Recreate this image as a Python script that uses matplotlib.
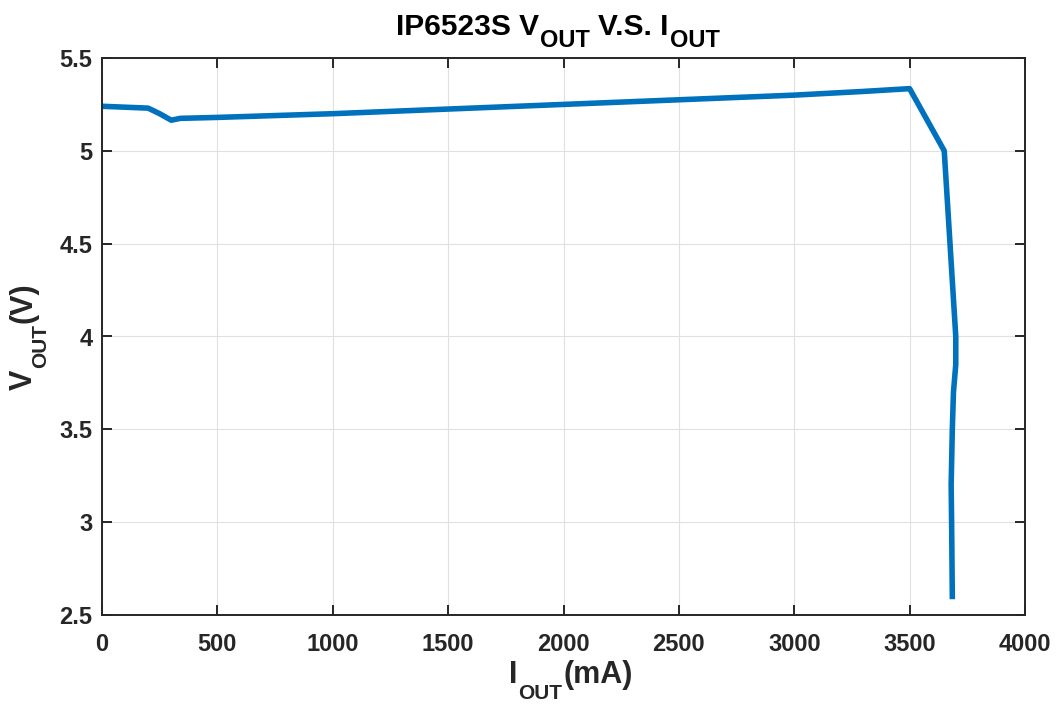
import matplotlib
matplotlib.use("Agg")
import matplotlib.pyplot as plt

plt.rcParams['font.family'] = ['Liberation Sans', 'DejaVu Sans']
plt.rcParams['font.weight'] = 'bold'

# current in mA, output voltage in V
iout = [0, 100, 200, 250, 300, 340, 500, 1000, 1500, 2000, 2500, 3000, 3300, 3500,
        3650, 3675, 3700, 3700, 3690, 3685, 3680, 3682, 3685]
vout = [5.24, 5.235, 5.23, 5.2, 5.165, 5.175, 5.18, 5.2, 5.225, 5.25, 5.275, 5.30, 5.32, 5.335,
        5.0, 4.5, 4.0, 3.85, 3.7, 3.5, 3.2, 3.0, 2.6]

xticks = [0, 500, 1000, 1500, 2000, 2500, 3000, 3500, 4000]
yticks = [2.5, 3, 3.5, 4, 4.5, 5, 5.5]
ytick_labels = ['2.5', '3', '3.5', '4', '4.5', '5', '5.5']

W, H = 1056, 704
DARK = '#262626'

fig = plt.figure(figsize=(W / 100, H / 100), dpi=100)
ax = fig.add_axes([102 / W, 1 - 615 / H, 923 / W, 557 / H])
ax.plot(iout, vout, color='#0072BD', linewidth=4)
ax.set_xlim(0, 4000)
ax.set_ylim(2.5, 5.5)
ax.set_xticks(xticks)
ax.set_yticks(yticks)
ax.set_yticklabels(ytick_labels)
ax.grid(True, color='#E0E0E0', linewidth=0.8)
ax.tick_params(direction='in', top=True, right=True, length=7, width=1.4,
               labelsize=17, colors=DARK)
ax.tick_params(axis='x', pad=13)
ax.tick_params(axis='y', pad=7)
for sp in ax.spines.values():
    sp.set_linewidth(1.4)
    sp.set_color(DARK)


def sub_text(x, y, parts, rotation=0, color='black'):
    # parts: (text, fontsize, drop in px, gap before in px); x, y = centre/baseline in px
    r = fig.canvas.get_renderer()
    widths = []
    for s, size, drop, gap in parts:
        t = fig.text(0, 0, s, fontsize=size, fontweight='bold')
        widths.append(t.get_window_extent(r).width + gap)
        t.remove()
    pos = -sum(widths) / 2
    for (s, size, drop, gap), w in zip(parts, widths):
        pos += gap
        if rotation == 0:
            px, py = x + pos, y - drop
        else:
            px, py = x + drop, y + pos
        fig.text(px / W, py / H, s, fontsize=size, fontweight='bold', ha='left',
                 va='baseline', rotation=rotation, rotation_mode='anchor', color=color)
        pos += w - gap


sub_text(558, H - 35, [('IP6523S V', 21.5, 0, 0), ('OUT', 17, 12, 1),
                       ('V.S. I', 21.5, 0, 8), ('OUT', 17, 12, 1)])
sub_text(571, H - 683, [('I', 22, 0, 0), ('OUT', 15, 16, 1), ('(mA)', 22, 0, 1)], color=DARK)
sub_text(32, H - 336, [('V', 22, 0, 0), ('OUT', 15, 14, 1), ('(V)', 22, 0, 1)],
         rotation=90, color=DARK)

fig.savefig('out.png', dpi=100)
